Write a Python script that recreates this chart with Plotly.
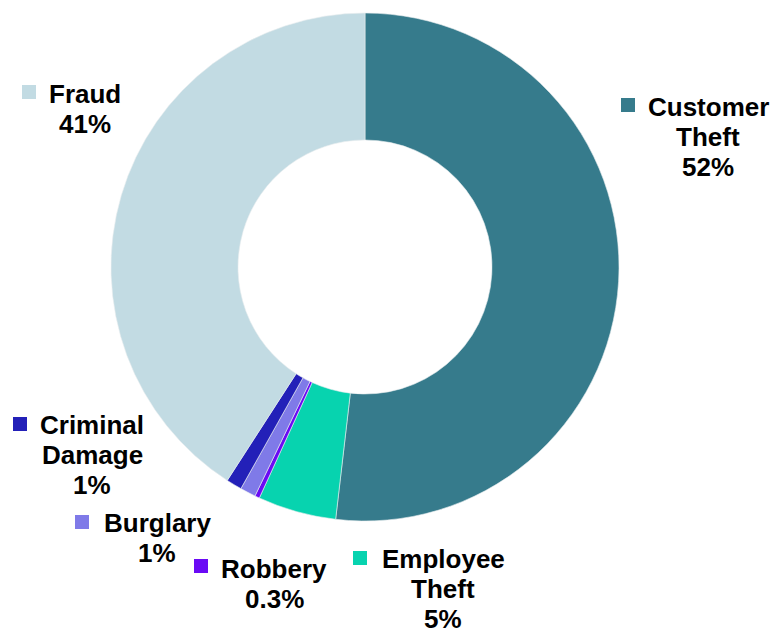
import plotly.graph_objects as go

# Incident categories, share of losses (%), and slice colours
categories = ["Customer Theft", "Employee Theft", "Robbery", "Burglary", "Criminal Damage", "Fraud"]
shares = [52, 5, 0.3, 1, 1, 41]
share_text = ["52%", "5%", "0.3%", "1%", "1%", "41%"]
label_lines = [["Customer", "Theft"], ["Employee", "Theft"], ["Robbery"], ["Burglary"],
               ["Criminal", "Damage"], ["Fraud"]]
colors = ["#367B8C", "#07D3AF", "#6A0AF5", "#7F7AE8", "#2320B8", "#C2DBE3"]

W, H = 773, 635

def px(x):
    return x / W

def py(y):
    return 1 - y / H

# Label placement in pixels: centre x and first-line centre y of the text block,
# top-left corner of the marker square
label_pos = {
    "Customer Theft": dict(text=(708, 107), square=(621, 98)),
    "Employee Theft": dict(text=(443, 559), square=(353, 551)),
    "Robbery": dict(text=(274, 569), square=(194, 559)),
    "Burglary": dict(text=(157, 523), square=(75, 515)),
    "Criminal Damage": dict(text=(92, 425), square=(13, 417)),
    "Fraud": dict(text=(85, 94), square=(22, 85)),
}
SQ = 14
LINE_GAP = 30
FONT = dict(family="Liberation Sans, Arial, sans-serif", size=26, color="#000000")

cx, cy, r = 365, 267, 254

fig = go.Figure(
    go.Pie(
        labels=categories,
        values=shares,
        marker=dict(colors=colors, line=dict(color="#E8ECEE", width=0.6)),
        hole=0.5,
        sort=False,
        direction="clockwise",
        rotation=0,
        textinfo="none",
        hoverinfo="label+percent",
        domain=dict(x=[px(cx - r), px(cx + r)], y=[py(cy + r), py(cy - r)]),
    )
)

annotations = []
shapes = []
for cat, lines, pct, col in zip(categories, label_lines, share_text, colors):
    pos = label_pos[cat]
    tx, ty = pos["text"]
    for i, line in enumerate(lines + [pct]):
        annotations.append(
            dict(
                x=px(tx), y=py(ty + i * LINE_GAP), xref="paper", yref="paper",
                text=f"<b>{line}</b>",
                showarrow=False, xanchor="center", yanchor="middle",
                align="center", borderpad=0,
                font=FONT,
            )
        )
    sx, sy = pos["square"]
    shapes.append(
        dict(
            type="rect", xref="paper", yref="paper",
            x0=px(sx), x1=px(sx + SQ), y0=py(sy + SQ), y1=py(sy),
            fillcolor=col, line=dict(width=0),
        )
    )

fig.update_layout(
    width=W, height=H,
    margin=dict(l=0, r=0, t=0, b=0),
    paper_bgcolor="white", plot_bgcolor="white",
    showlegend=False,
    annotations=annotations,
    shapes=shapes,
)

fig.write_html("out.html")
